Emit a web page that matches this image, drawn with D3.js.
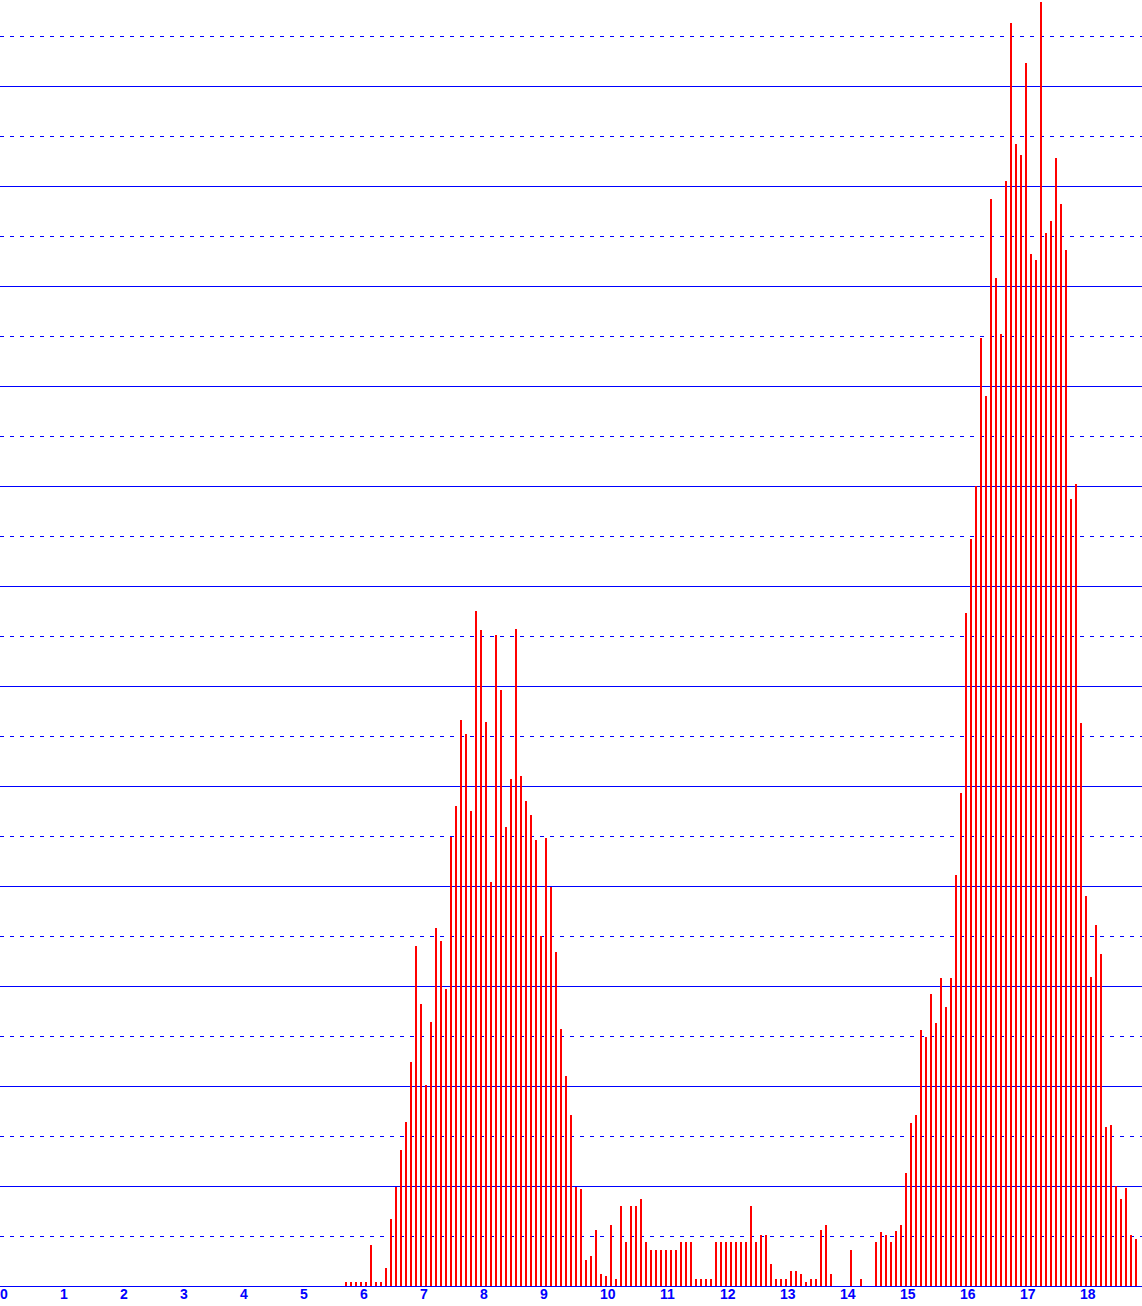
<!DOCTYPE html>
<html>
<head>
<meta charset="utf-8">
<script src="https://cdn.jsdelivr.net/npm/d3@7"></script>
<style>
  html, body { margin: 0; padding: 0; background: #ffffff; }
  svg { display: block; }
</style>
</head>
<body>
<svg id="chart"></svg>
<script>
// ---- data ----
const xTickLabels = [0, 1, 2, 3, 4, 5, 6, 7, 8, 9, 10, 11, 12, 13, 14, 15, 16, 17, 18];
const binStart = 5.7;      // left edge of first bin (x units)
const binStep = 1 / 12;    // bin spacing (x units)
const values = [
  0.9, 0.9, 0.9, 0.9, 0.9, 8.3, 0.9, 0.9, 3.7, 13.5,
  19.9, 27.3, 32.9, 44.7, 67.9, 56.5, 40.3, 52.9, 71.7, 69.1,
  59.5, 89.9, 96.1, 113.3, 110.3, 95.1, 135.1, 131.3, 112.9, 80.9,
  130.3, 119.3, 91.9, 101.5, 131.5, 102.1, 97.1, 94.3, 89.3, 70.1,
  89.7, 79.9, 66.7, 51.5, 42.1, 34.3, 19.9, 19.5, 5.3, 6.0,
  11.2, 2.4, 2.0, 12.2, 1.4, 16.0, 8.8, 16.0, 16.0, 17.4,
  8.8, 7.2, 7.2, 7.2, 7.2, 7.2, 7.2, 8.8, 8.8, 8.8,
  1.4, 1.4, 1.4, 1.4, 8.8, 8.8, 8.8, 8.8, 8.8, 8.8,
  8.8, 16.0, 8.8, 10.2, 10.2, 4.4, 1.4, 1.4, 1.4, 3.0,
  3.0, 2.4, 0.8, 1.4, 1.4, 11.2, 12.2, 2.4, 0, 0,
  0, 7.2, 0, 1.4, 0, 0, 8.8, 10.8, 10.2, 8.8,
  11.0, 12.2, 22.6, 32.6, 34.2, 51.3, 49.8, 58.5, 52.7, 61.7,
  55.8, 61.7, 82.3, 98.7, 134.7, 149.3, 159.9, 189.7, 178.1, 217.3,
  201.7, 190.3, 221.1, 252.7, 228.3, 226.3, 244.7, 206.5, 205.1, 256.9,
  210.7, 213.1, 225.7, 216.5, 207.1, 157.5, 160.5, 112.6, 78.0, 61.8,
  72.2, 66.4, 31.8, 32.3, 20.0, 17.4, 19.6, 10.2, 9.5
];
const gridValues = [10, 20, 30, 40, 50, 60, 70, 80, 90, 100, 110, 120, 130,
                    140, 150, 160, 170, 180, 190, 200, 210, 220, 230, 240, 250];

// ---- layout ----
const W = 1142, H = 1306;
const BLUE = "#0000ff", RED = "#ff0000";

const svg = d3.select("#chart").attr("width", W).attr("height", H);

const x = d3.scaleLinear().domain([0, 19]).range([3, 3 + 19 * 60]);
const y = d3.scaleLinear().domain([0, 250]).range([1286, 36]);

const bins = values.map((v, i) => ({ x0: binStart + i * binStep, v }));

// gridlines (behind bars)
svg.append("g")
  .selectAll("line")
  .data(gridValues)
  .join("line")
  .attr("x1", 0)
  .attr("x2", W)
  .attr("y1", d => Math.round(y(d)) + 0.5)
  .attr("y2", d => Math.round(y(d)) + 0.5)
  .attr("stroke", BLUE)
  .attr("stroke-width", 1)
  .attr("stroke-dasharray", d => (d % 20 === 0 ? null : "4,6"))
  .attr("shape-rendering", "crispEdges");

// bars
const barW = x(2 / 60) - x(0);
svg.append("g")
  .selectAll("rect")
  .data(bins)
  .join("rect")
  .attr("x", d => Math.round(x(d.x0)))
  .attr("width", barW)
  .attr("y", d => Math.round(y(d.v)))
  .attr("height", d => y(0) - Math.round(y(d.v)))
  .attr("fill", RED)
  .attr("shape-rendering", "crispEdges");

// baseline
svg.append("line")
  .attr("x1", 0).attr("x2", W)
  .attr("y1", y(0) + 0.5).attr("y2", y(0) + 0.5)
  .attr("stroke", BLUE)
  .attr("stroke-width", 1)
  .attr("shape-rendering", "crispEdges");

// x tick labels
svg.append("g")
  .selectAll("text")
  .data(xTickLabels)
  .join("text")
  .attr("x", d => x(d) - 3)
  .attr("y", 1299)
  .attr("text-anchor", "start")
  .attr("font-family", "'Liberation Sans', Arial, sans-serif")
  .attr("font-weight", "bold")
  .attr("font-size", 14)
  .attr("fill", BLUE)
  .text(d => d);
</script>
</body>
</html>
